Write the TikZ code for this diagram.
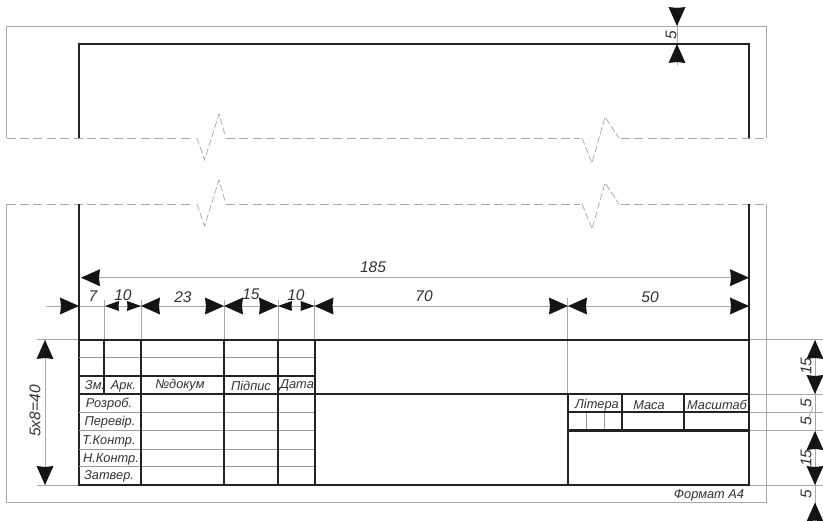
\documentclass[tikz,border=0pt]{standalone}
\usepackage{fontspec}
\setmainfont{Liberation Sans}
\definecolor{ink}{HTML}{222222}
\definecolor{hair}{HTML}{A8A8A8}
\definecolor{rowline}{HTML}{9A9A9A}
\definecolor{txt}{HTML}{333333}
\tikzset{
  thick line/.style={draw=ink,line width=2.3pt},
  hairline/.style={draw=hair,line width=0.8pt},
  rowrule/.style={draw=rowline,line width=0.8pt},
  cut/.style={draw=hair,line width=0.8pt,dash pattern=on 9pt off 4.4pt},
  zig/.style={draw=hair,line width=0.7pt,dash pattern=on 7pt off 2.5pt},
  cell/.style={font=\fontsize{12.8}{14}\selectfont\itshape,text=txt,inner sep=0pt},
  dimtext/.style={font=\fontsize{15.5}{16}\selectfont\itshape,text=txt,inner sep=0pt},
  pics/bighead/.style={code={\fill[black!92] (0,0)--(19,-8.5)--(18,0)--(19,8.5)--cycle;}},
  pics/smallhead/.style={code={\fill[black!92] (0,0)--(14,-5)--(13.5,0)--(14,5)--cycle;}}
}
\begin{document}
\begin{tikzpicture}[x=1pt,y=-1pt]
\useasboundingbox (0,0) rectangle (823,521);
\fill[white] (0,0) rectangle (823,521);
% sheet outline
\draw[hairline] (6.5,138) -- (6.5,26) -- (766.7,26) -- (766.7,138);
\draw[hairline] (6.5,204) -- (6.5,502.5) -- (766.7,502.5) -- (766.7,204);
% break lines
\foreach \yy in {138,204}{
  \draw[cut] (6.5,\yy) -- (194,\yy);
  \draw[cut] (226,\yy) -- (580,\yy);
  \draw[cut] (621,\yy) -- (766.7,\yy);
  \begin{scope}[yshift={-(\yy-138)*1pt}]
    \draw[zig] (197,138) -- (204.5,160) -- (219,114) -- (225,135);
    \draw[zig] (582,138) -- (592,163) -- (605,117) -- (619,138);
  \end{scope}
}
% extension lines
\draw[hairline] (37,339.5) -- (79,339.5);
\draw[hairline] (37,485) -- (79,485);
\draw[hairline] (749,339.5) -- (823,339.5);
\draw[hairline] (749,394) -- (823,394);
\draw[hairline] (749,412) -- (823,412);
\draw[hairline] (749,430.5) -- (823,430.5);
\draw[hairline] (749,485) -- (823,485);
\foreach \xx in {104.3,141,224,278,314.5}{\draw[hairline] (\xx,300) -- (\xx,339.5);}
\draw[hairline] (567.7,298) -- (567.7,394);
% dimension lines
\draw[hairline] (81,277.7) -- (749,277.7);
\draw[hairline] (46,306) -- (749,306);
\draw[hairline] (45,340) -- (45,485);
\draw[hairline] (677,7) -- (677,65);
\draw[hairline] (815,340) -- (815,521);
\draw[hairline] (808,419) -- (813,407);
% frame
\draw[thick line] (79,138) -- (79,44) -- (749,44) -- (749,138);
\draw[thick line] (79,204) -- (79,485) -- (749,485) -- (749,204);
% title block rules
\foreach \yy in {357.5}{\draw[rowrule] (79,\yy) -- (314.5,\yy);}
\foreach \yy in {412,430.5,449,466.5}{\draw[rowrule] (79,\yy) -- (314.5,\yy);}
\foreach \xx in {586,604}{\draw[rowrule] (\xx,412) -- (\xx,430.5);}
\draw[thick line] (79,340) -- (749,340);
\draw[thick line] (79,376) -- (315,376);
\draw[thick line] (79,394) -- (749,394);
\draw[thick line] (568,412) -- (749,412);
\draw[thick line] (568,430.5) -- (749,430.5);
\draw[thick line] (104.3,340) -- (104.3,394);
\foreach \xx in {141,224,278,315}{\draw[thick line] (\xx,340) -- (\xx,485);}
\draw[thick line] (568,394) -- (568,485);
\draw[thick line] (622,394) -- (622,430.5);
\draw[thick line] (684,394) -- (684,430.5);
% arrowheads
\pic[rotate=0] at (81,277.7) {bighead};
\pic[rotate=180] at (749,277.7) {bighead};
\pic[rotate=180] at (79,306) {bighead};
\pic[rotate=0] at (105,306) {smallhead};
\pic[rotate=180] at (141,306) {smallhead};
\pic[rotate=0] at (141,306) {bighead};
\pic[rotate=180] at (224,306) {bighead};
\pic[rotate=0] at (224,306) {bighead};
\pic[rotate=180] at (278,306) {bighead};
\pic[rotate=0] at (278,306) {smallhead};
\pic[rotate=180] at (314.5,306) {smallhead};
\pic[rotate=0] at (314.5,306) {bighead};
\pic[rotate=180] at (568,306) {bighead};
\pic[rotate=0] at (568,306) {bighead};
\pic[rotate=180] at (749,306) {bighead};
\pic[rotate=-90] at (45,340) {bighead};
\pic[rotate=90] at (45,485) {bighead};
\pic[rotate=90] at (677,26) {bighead};
\pic[rotate=-90] at (677,44) {bighead};
\pic[rotate=-90] at (815,340) {bighead};
\pic[rotate=90] at (815,394) {bighead};
\pic[rotate=-90] at (815,431) {bighead};
\pic[rotate=90] at (815,485) {bighead};
\pic[rotate=-90] at (815,502.5) {bighead};
% dimension labels
\node[dimtext] (d185) at (373,267) {185};
\node[dimtext] (d7) at (93,296) {7};
\node[dimtext] (d10a) at (123,295) {10};
\node[dimtext] (d23) at (183,297) {23};
\node[dimtext] (d15) at (251,294) {15};
\node[dimtext] (d10b) at (296,295) {10};
\node[dimtext] (d70) at (424,296) {70};
\node[dimtext] (d50) at (650,297) {50};
\node[dimtext,rotate=90] (d40) at (35,411) {5x8=40};
\node[dimtext,rotate=90] (dtop) at (671,35) {5};
\node[dimtext,rotate=90] (r15a) at (806,366) {15};
\node[dimtext,rotate=90] (r5a) at (806,403) {5};
\node[dimtext,rotate=90] (r5b) at (806,421) {5};
\node[dimtext,rotate=90] (r15b) at (806,458) {15};
\node[dimtext,rotate=90] (r5c) at (806,494) {5};
% cell labels
\node[cell] (zm) at (95,385) {Зм.};
\node[cell] (ark) at (123.5,386) {Арк.};
\node[cell] (doc) at (180,385) {№докум};
\node[cell] (sign) at (251,386) {Підпис};
\node[cell] (date) at (297,385) {Дата};
\node[cell] (r1) at (109,404) {Розроб.};
\node[cell] (r2) at (110,422) {Перевір.};
\node[cell] (r3) at (109,441.5) {Т.Контр.};
\node[cell] (r4) at (111,459) {Н.Контр.};
\node[cell] (r5) at (109,476) {Затвер.};
\node[cell] (lit) at (597,405) {Літера};
\node[cell] (mass) at (649,405) {Маса};
\node[cell] (scale) at (717,405) {Масштаб};
\node[cell] (fmt) at (709,495) {Формат А4};
\end{tikzpicture}
\end{document}
